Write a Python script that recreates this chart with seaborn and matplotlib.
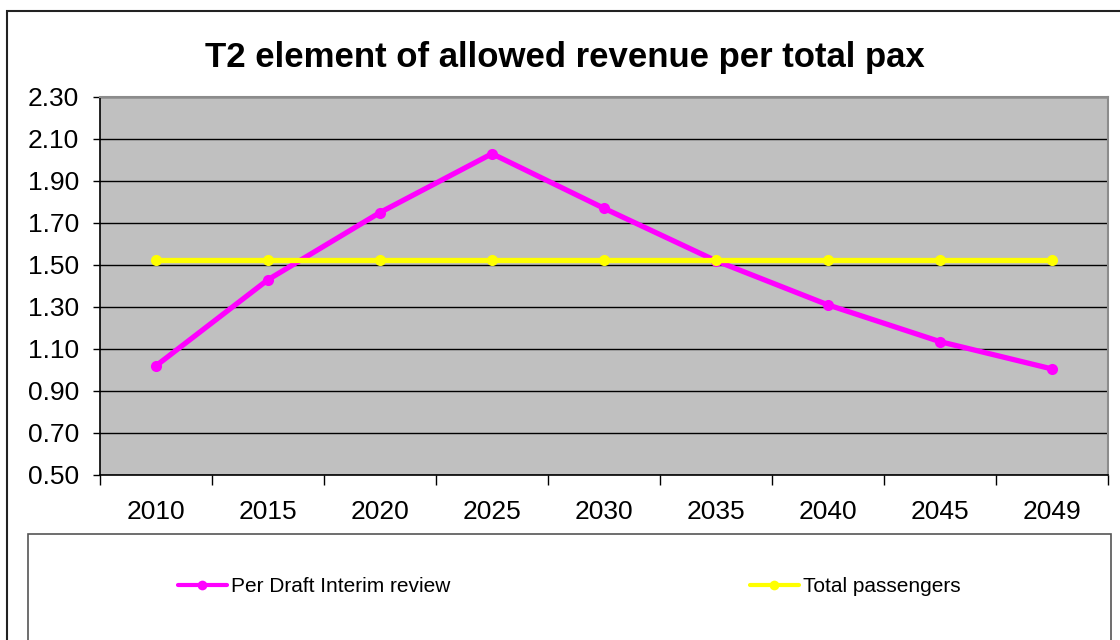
import matplotlib
matplotlib.use("Agg")
import matplotlib.pyplot as plt
from matplotlib.patches import Rectangle
from matplotlib.lines import Line2D
import numpy as np
import pandas as pd
import seaborn as sns

# values
years = ["2010", "2015", "2020", "2025", "2030", "2035", "2040", "2045", "2049"]
draft_interim = [1.02, 1.43, 1.75, 2.03, 1.77, 1.52, 1.31, 1.135, 1.005]
total_pax = [1.525, 1.525, 1.525, 1.525, 1.525, 1.525, 1.525, 1.525, 1.525]
series_names = ["Per Draft Interim review", "Total passengers"]
series_colors = ["#FF00FF", "#FFFF00"]
y_ticks = [0.50, 0.70, 0.90, 1.10, 1.30, 1.50, 1.70, 1.90, 2.10, 2.30]

df = pd.DataFrame({
    "year": years * 2,
    "value": draft_interim + total_pax,
    "series": [series_names[0]] * len(years) + [series_names[1]] * len(years),
})

sns.set_style("white")
plt.rcParams["font.family"] = ["Liberation Sans", "DejaVu Sans"]
plt.rcParams["text.color"] = "black"
plt.rcParams["xtick.color"] = "black"
plt.rcParams["ytick.color"] = "black"
plt.rcParams["axes.labelcolor"] = "black"

W, H = 1120, 640
fig = plt.figure(figsize=(W / 100, H / 100), dpi=100)

# outer chart border (only left and top edges visible)
fig.patches.append(Rectangle((7 / W, -0.2), 1.5, (H - 11) / H + 0.2, transform=fig.transFigure,
                             fill=False, ec="#222222", lw=1.5))

ax = fig.add_axes([100 / W, (H - 475) / H, 1008 / W, 378 / H])
ax.set_facecolor("#C0C0C0")

sns.lineplot(data=df, x="year", y="value", hue="series", palette=series_colors,
             marker="o", markersize=8, markeredgewidth=0, linewidth=3.8,
             sort=False, legend=False, ax=ax)

ax.set_xlim(-0.5, len(years) - 0.5)
ax.set_ylim(y_ticks[0], y_ticks[-1])
ax.set_yticks(y_ticks)
ax.set_yticklabels([f"{v:.2f}" for v in y_ticks])
ax.yaxis.grid(True, color="black", lw=1.0)
ax.set_axisbelow(True)
ax.set_xlabel("")
ax.set_ylabel("")

ax.set_xticks(np.arange(len(years)))
ax.set_xticklabels(years)
ax.set_xticks(np.arange(len(years) + 1) - 0.5, minor=True)
ax.tick_params(axis="x", which="major", length=0, pad=18, labelsize=19, labelcolor="black")
ax.tick_params(axis="x", which="minor", length=7, width=1, color="black", direction="out", bottom=True)
ax.tick_params(axis="y", which="major", length=5, width=1, color="black", direction="out",
               left=True, pad=10, labelsize=19, labelcolor="black")

for side in ["left", "bottom"]:
    ax.spines[side].set_color("black")
    ax.spines[side].set_linewidth(1.2)
for side in ["top", "right"]:
    ax.spines[side].set_color("#8c8c8c")
    ax.spines[side].set_linewidth(1.5)

fig.text(565 / W, 1 - 57 / H, "T2 element of allowed revenue per total pax",
         ha="center", va="center", fontsize=25, fontweight="bold", color="black")

# legend box below the plot
fig.patches.append(Rectangle((28 / W, -0.2), (1111 - 28) / W, (H - 534) / H + 0.2,
                             transform=fig.transFigure, fill=False, ec="#555555", lw=1.2))

legend_x = [178, 750]
for name, color, lx in zip(series_names, series_colors, legend_x):
    handle = Line2D([], [], color=color, lw=3, marker="o", markersize=7, markeredgewidth=0)
    leg = fig.legend([handle], [name], loc="center left",
                     bbox_to_anchor=(lx / W, 1 - 587 / H), frameon=False, fontsize=15,
                     handlelength=2.35, handletextpad=0.2, borderpad=0, borderaxespad=0,
                     labelcolor="black")

fig.savefig("out.png", dpi=100)
